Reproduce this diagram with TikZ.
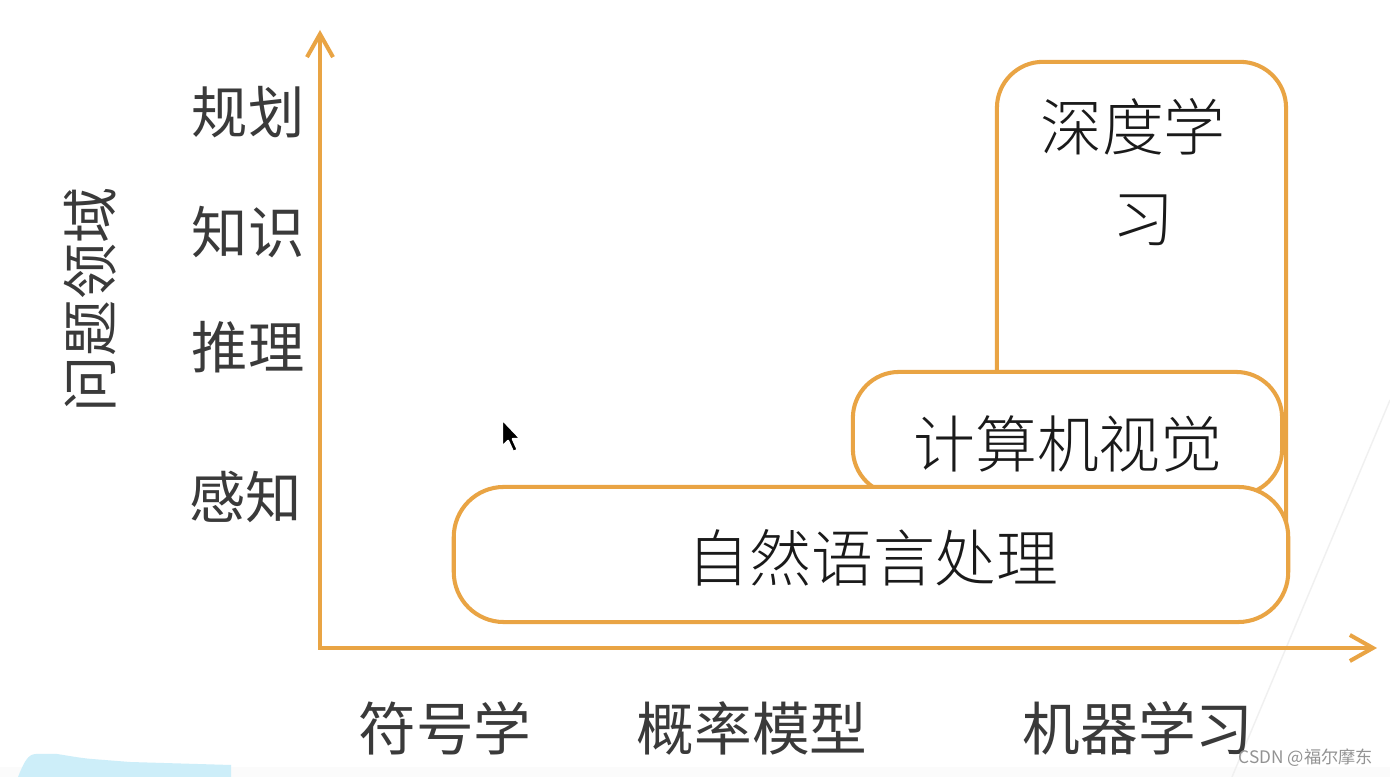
\documentclass[tikz,border=0pt]{standalone}
\usepackage{fontspec}
\usetikzlibrary{arrows.meta}
\newfontfamily\cjk{Noto Sans CJK SC}
\IfFontExistsTF{Noto Sans CJK SC Light}{\newfontfamily\cjklight{Noto Sans CJK SC Light}}{\newfontfamily\cjklight{Noto Sans CJK SC}}
\definecolor{axorange}{HTML}{E9A444}
\definecolor{labgray}{HTML}{3A3A3A}
\definecolor{boxtext}{HTML}{1A1A1A}
\definecolor{patchblue}{HTML}{CDEEF9}
\tikzset{
  axisline/.style={draw=axorange, line width=1.15pt, -{Straight Barb[length=2.3mm,width=2.6mm,line width=1.15pt]}},
  fieldbox/.style={draw=axorange, line width=1.15pt, fill=white, rounded corners=0.46cm, inner sep=0pt},
  ylab/.style={font=\cjk\fontsize{16pt}{19pt}\selectfont, text=labgray, inner sep=0pt},
  xlab/.style={font=\cjk\fontsize{16.4pt}{19pt}\selectfont, text=labgray, inner sep=0pt},
  boxlab/.style={font=\cjklight\fontsize{17.6pt}{20pt}\selectfont, text=boxtext, inner sep=0pt},
}
\begin{document}
\begin{tikzpicture}[x=0.01cm,y=-0.01cm]
\useasboundingbox (0,0) rectangle (1390,777);
\fill[white] (0,0) rectangle (1390,777);
\fill[gray!3] (0,767) rectangle (1390,777);
% faint diagonal line at the right
\draw[gray!12, line width=0.4pt] (1390,400) -- (1232,777);
% light blue patch
\fill[patchblue] (18,777) .. controls (24,762) and (28,754) .. (36,754) -- (57,754) .. controls (70,756) and (80,758) .. (92,759) -- (130,762) -- (231,765) -- (231,777) -- cycle;

% boxes
\node[fieldbox, minimum width=2.89cm, minimum height=5.4cm] (dl) at (1141.5,332) {};
\node[fieldbox, minimum width=4.29cm, minimum height=1.23cm] (cv) at (1067.5,433.5) {};
\node[fieldbox, minimum width=8.34cm, minimum height=1.35cm, rounded corners=0.5cm] (nlp) at (871,554.5) {};

\node[boxlab] (dlt1) at (1133,127) {深度学};
\node[boxlab] (dlt2) at (1143,220) {习};
\node[boxlab] (cvt) at (1068,444) {计算机视觉};
\node[boxlab] (nlpt) at (873,558) {自然语言处理};

% axes
\coordinate (o) at (320,648);
\coordinate (ytip) at (320,30);
\coordinate (xtip) at (1377,648);
\draw[axisline] (320,650) -- (ytip);
\draw[axisline] (318,648) -- (xtip);

% y labels
\node[ylab] (y1) at (248,112) {规划};
\node[ylab] (y2) at (248,232) {知识};
\node[ylab] (y3) at (248,347) {推理};
\node[ylab] (y4) at (246,497) {感知};
\node[ylab, rotate=90] (yt) at (90,300) {问题领域};

% x labels
\node[xlab] (x1) at (445,728) {符号学};
\node[xlab] (x2) at (752,728) {概率模型};
\node[xlab] (x3) at (1138,728) {机器学习};

% mouse cursor
\draw[white, line width=0.7pt, fill=black, line join=round]
  (502,419) -- (502,447) -- (508,441) -- (513,452) -- (518,450) -- (513,439) -- (521,439) -- cycle;

% watermark
\node[font=\cjk\fontsize{4.9pt}{6pt}\selectfont, text=gray!85, inner sep=0pt] (wm) at (1306,758) {CSDN @福尔摩东};
\end{tikzpicture}
\end{document}
